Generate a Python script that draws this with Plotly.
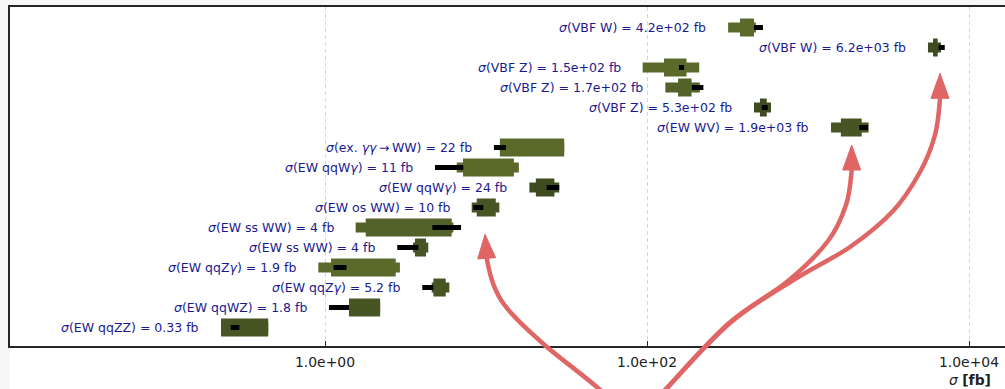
import numpy as np
import plotly.graph_objects as go

# ---------------- data (top row first) ----------------
process_names = ["VBF W", "VBF W", "VBF Z", "VBF Z", "VBF Z", "EW WV",
                 "ex. <i>γγ</i>\u2009→\u2009WW", "EW qqW<i>γ</i>", "EW qqW<i>γ</i>",
                 "EW os WW", "EW ss WW", "EW ss WW", "EW qqZ<i>γ</i>",
                 "EW qqZ<i>γ</i>", "EW qqWZ", "EW qqZZ"]
value_text = ["4.2e+02", "6.2e+03", "1.5e+02", "1.7e+02", "5.3e+02", "1.9e+03",
              "22", "11", "24", "10", "4", "4", "1.9", "5.2", "1.8", "0.33"]

outer_lo = [319, 5560, 94.0, 130, 462, 1390, 12.2, 6.58, 18.6, 8.15, 1.55, 3.52, 0.909, 4.60, 1.41, 0.226]
outer_hi = [475, 6700, 211, 213, 589, 2380, 30.6, 16.0, 28.5, 12.1, 6.27, 4.38, 2.92, 5.92, 2.20, 0.444]
inner_lo = [378, 5980, 127.5, 156, 503, 1600, 12.2, 7.20, 20.4, 8.76, 1.79, 3.62, 1.09, 4.71, 1.41, 0.226]
inner_hi = [462, 6390, 176, 189, 554, 2155, 30.6, 14.9, 26.6, 11.5, 6.12, 4.24, 2.75, 5.62, 2.20, 0.444]
meas_lo = [462, 6480, 158, 190, 516, 2083, 11.2, 4.82, 23.8, 8.34, 4.64, 2.81, 1.13, 4.02, 1.06, 0.260]
meas_hi = [525, 7070, 170, 224, 562, 2358, 13.3, 7.23, 28.5, 9.62, 7.00, 3.80, 1.36, 4.71, 1.41, 0.294]

tick_vals = [1, 100, 10000]
tick_text = ["1.0e+00", "1.0e+02", "1.0e+04"]

# ---------------- styling ----------------
C_LIGHT, C_MED, C_MDARK, C_DARK = "#5b6a2b", "#536228", "#475424", "#3f4b20"
row_colors = [C_LIGHT, C_DARK, C_LIGHT, C_MED, C_DARK, C_MDARK, C_LIGHT, C_LIGHT,
              C_DARK, C_MDARK, C_MED, C_MDARK, C_LIGHT, C_MDARK, C_MDARK, C_MDARK]
LABEL_COLOR = "#1a1a90"
ARROW_COLOR = "#e06666"

W, H = 1005, 389
ML, MR, MT, MB = 10, 0, 7, 43
PW, PH = W - ML - MR, H - MT - MB
DEC = 161.0          # pixels per decade
X1_PX = 325          # pixel position of 1.0e+00
xr = [(ML - X1_PX) / DEC, (W - MR - X1_PX) / DEC]
yr = [-0.925, 16.025]

n = len(process_names)
ypos = [n - 1 - i for i in range(n)]

fig = go.Figure()

for i in range(n):
    fig.add_trace(go.Scatter(x=[outer_lo[i], outer_hi[i]], y=[ypos[i], ypos[i]], mode="lines",
                             line=dict(color=row_colors[i], width=10), hoverinfo="skip", showlegend=False))
    fig.add_trace(go.Scatter(x=[inner_lo[i], inner_hi[i]], y=[ypos[i], ypos[i]], mode="lines",
                             line=dict(color=row_colors[i], width=18), hoverinfo="skip", showlegend=False))

mx, my = [], []
for i in range(n):
    mx += [meas_lo[i], meas_hi[i], None]
    my += [ypos[i], ypos[i], None]
fig.add_trace(go.Scatter(x=mx, y=my, mode="lines", line=dict(color="black", width=5),
                         hoverinfo="skip", showlegend=False))

annotations = []
for i in range(n):
    left = min(outer_lo[i], inner_lo[i], meas_lo[i])
    annotations.append(dict(
        x=np.log10(left), y=ypos[i], xref="x", yref="y", xanchor="right", yanchor="middle",
        xshift=-20, showarrow=False,
        text=f"<i>σ</i>({process_names[i]}) = {value_text[i]} fb",
        font=dict(family="DejaVu Sans", size=12.5, color=LABEL_COLOR)))

annotations.append(dict(x=(993 - ML) / PW, y=(H - MB - 380) / PH, xref="paper", yref="paper",
                        xanchor="right", yanchor="middle", showarrow=False,
                        text="<i>σ</i> <b>[fb]</b>",
                        font=dict(family="DejaVu Sans", size=13.9, color="#222222")))

# ---------------- decorative arrows (pixel waypoints) ----------------
def to_paper(p):
    return ((p[0] - ML) / PW, (H - MB - p[1]) / PH)

arrows = [
    ([(645, 432), (598.3, 388.3), (546.7, 346.7), (510, 311.7), (495, 288.3), (486.7, 258.3)], (485, 234.3)),
    ([(625, 435), (666.7, 388.3), (728, 324), (788, 281), (828, 241), (846, 205),
      (851.7, 170)], (851.7, 145)),
    ([(625, 435), (666.7, 388.3), (730, 323), (795, 279), (850, 247), (893, 211),
      (920, 172), (935, 135), (940, 98.3)], (940, 73.3)),
]

shapes = []
shapes.append(dict(type="rect", xref="paper", yref="paper", x0=0, x1=1.01, y0=-MB / PH - 0.01, y1=0,
                   fillcolor="white", line=dict(width=0), layer="below"))

for pts, tip in arrows:
    P = [np.array(p, float) for p in pts]
    ext = [P[0]] + P + [np.array(tip, float)]
    d = "M {:.5f},{:.5f}".format(*to_paper(P[0]))
    for k in range(len(P) - 1):
        p0, p1, p2, p3 = ext[k], ext[k + 1], ext[k + 2], ext[k + 3]
        c1 = p1 + (p2 - p0) / 6.0
        c2 = p2 - (p3 - p1) / 6.0
        a, b, c = to_paper(c1), to_paper(c2), to_paper(p2)
        d += " C {:.5f},{:.5f} {:.5f},{:.5f} {:.5f},{:.5f}".format(a[0], a[1], b[0], b[1], c[0], c[1])
    shapes.append(dict(type="path", xref="paper", yref="paper", path=d,
                       line=dict(color=ARROW_COLOR, width=4.5), layer="above"))
    base = P[-1]
    t = np.array(tip, float)
    v = t - base
    v = v / np.linalg.norm(v)
    perp = np.array([-v[1], v[0]])
    b1, b2 = base + perp * 9, base - perp * 9
    tp, q1, q2 = to_paper(t), to_paper(b1), to_paper(b2)
    shapes.append(dict(type="path", xref="paper", yref="paper",
                       path="M {:.5f},{:.5f} L {:.5f},{:.5f} L {:.5f},{:.5f} Z".format(tp[0], tp[1], q1[0], q1[1], q2[0], q2[1]),
                       fillcolor=ARROW_COLOR, line=dict(color=ARROW_COLOR, width=1), layer="above"))

fig.update_layout(
    width=W, height=H,
    margin=dict(l=ML, r=MR, t=MT, b=MB, pad=0),
    paper_bgcolor="#f6f7f9", plot_bgcolor="white",
    font=dict(family="DejaVu Sans", color="#222222"),
    xaxis=dict(type="log", range=xr, tickvals=tick_vals, ticktext=tick_text,
               showline=True, linecolor="#262626", linewidth=1.6, mirror=True,
               ticks="inside", ticklen=5, tickwidth=1, tickcolor="#262626",
               showgrid=True, gridcolor="#d6d6d6", gridwidth=1, griddash="4px,3px",
               zeroline=False, tickfont=dict(family="DejaVu Sans", size=13.9, color="#222222"),
               ticklabelstandoff=3),
    yaxis=dict(range=yr, showline=True, linecolor="#262626", linewidth=1.6, mirror=False,
               showticklabels=False, ticks="", showgrid=False, zeroline=False),
    annotations=annotations,
    shapes=shapes,
)

fig.write_html("out.html")
